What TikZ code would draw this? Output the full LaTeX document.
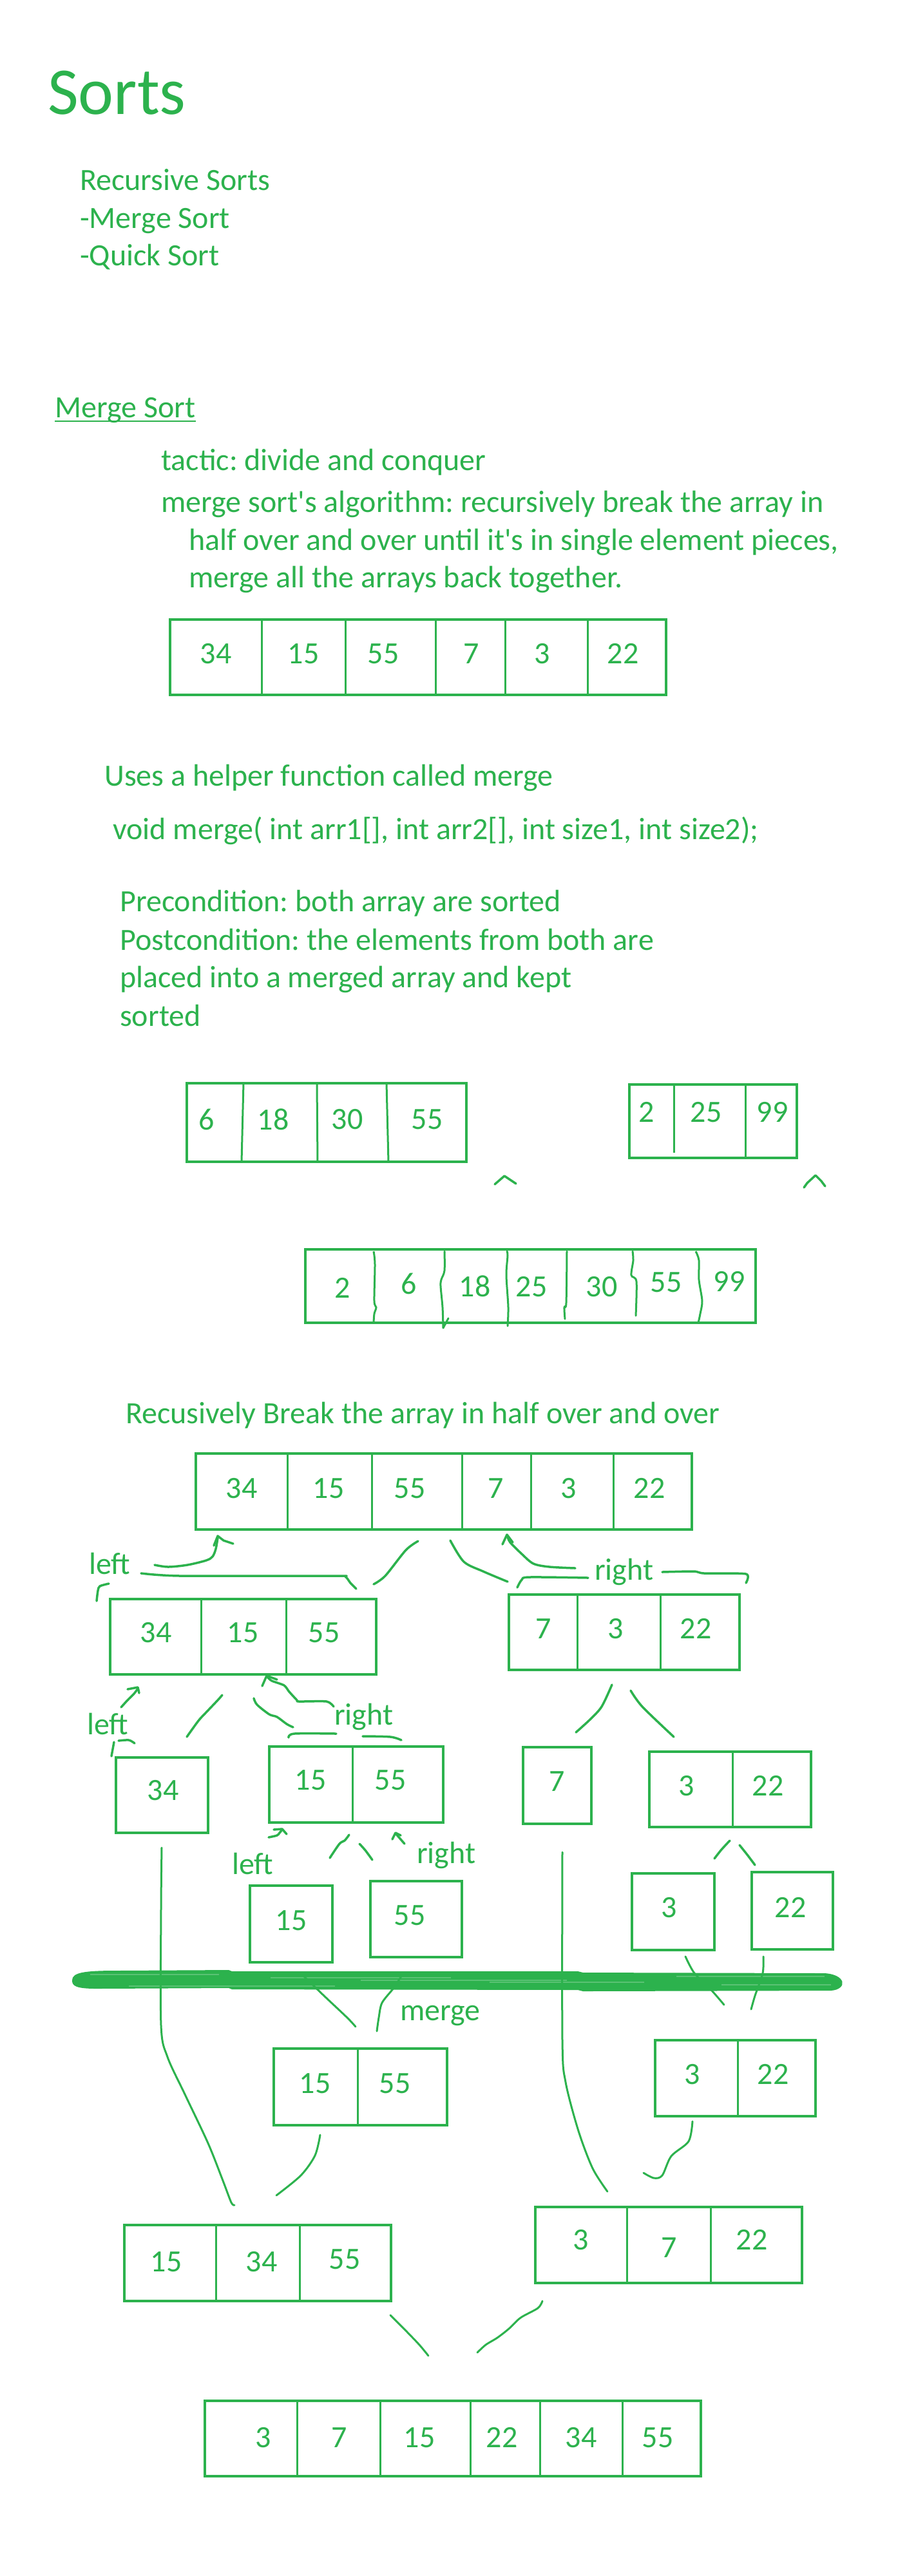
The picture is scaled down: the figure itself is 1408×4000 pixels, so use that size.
\documentclass[tikz,border=0pt]{standalone}
\usepackage{fontspec}
\setmainfont{Carlito}
\definecolor{ink}{RGB}{44,178,77}
\newcommand\bodyfs{\fontsize{48}{58}\selectfont}
\newcommand\titlefs{\fontsize{104}{120}\selectfont}
\newcommand\arrnode[5]{\node[abox,minimum width={#4-#2},minimum height={#5-#3}] (#1) at ({(#2+#4)/2},{(#3+#5)/2}) {};}
\newcommand\divs[3]{\foreach \dx in {#3} \draw[divl] (\dx,#1) -- (\dx,#2);}
\newcommand\nums[3]{\foreach \nx/\nv [count=\ni] in {#3} \node[num] (#1-\ni) at (\nx,#2) {\nv};}
\frenchspacing
\begin{document}
\begin{tikzpicture}[x=1pt,y=-1pt,
  abox/.style={draw=ink,line width=4.5pt,inner sep=0pt,outer sep=0pt},
  divl/.style={draw=ink,line width=3pt},
  num/.style={text=ink,font=\bodyfs,inner sep=0pt},
  txt/.style={text=ink,font=\bodyfs,inner sep=0pt,anchor=base west},
  hand/.style={draw=ink,line width=3.5pt,line cap=round,line join=round},
  thin/.style={draw=ink,line width=3pt,line cap=round,line join=round}]
\fill[white] (0,0) rectangle (1408,4000);
\useasboundingbox (0,0) rectangle (1408,4000);

% ---------- header text ----------
\node[txt,font=\titlefs] (title) at (74,177) {Sorts};
\node[txt] (rs) at (124,295) {Recursive Sorts};
\node[txt] (ms1) at (124,354) {-Merge Sort};
\node[txt] (qs1) at (124,412) {-Quick Sort};
\node[txt] (msh) at (85,648) {Merge Sort};
\draw[ink,line width=2.5pt] ([yshift=-6pt]msh.base west) -- ([yshift=-6pt]msh.base east);
\node[txt] (t1) at (250,730) {tactic: divide and conquer};
\node[txt] (t2) at (250,795) {merge sort\textquotesingle s algorithm: recursively break the array in};
\node[txt] (t3) at (293,854) {half over and over until it\textquotesingle s in single element pieces,};
\node[txt] (t4) at (293,912) {merge all the arrays back together.};

% first array
\arrnode{A0}{264}{962}{1034}{1079}
\divs{962}{1079}{406,536,676,784,912}
\nums{A0}{1015}{335/34,471/15,595/55,732/7,842/3,967/22}

\node[txt] (u1) at (162,1220) {Uses a helper function called merge};
\node[txt] (u2) at (175,1303) {void merge( int arr1[], int arr2[], int size1, int size2);};
\node[txt] (p1) at (186,1415) {Precondition: both array are sorted};
\node[txt] (p2) at (186,1475) {Postcondition: the elements from both are};
\node[txt] (p3) at (186,1533) {placed into a merged array and kept};
\node[txt] (p4) at (186,1593) {sorted};

% merge example
\arrnode{A1}{290}{1682}{724}{1804}
\draw[divl] (378,1682) -- (375,1804);
\draw[divl] (492,1682) -- (493,1804);
\draw[divl] (600,1682) -- (603,1804);
\nums{A1}{1738}{321/6,424/18,539/30,663/55}

\arrnode{A2}{977}{1684}{1237}{1798}
\draw[divl] (1046,1684) -- (1046,1790);
\draw[divl] (1157,1684) -- (1157,1798);
\nums{A2}{1727}{1004/2,1096/25,1199/99}

\draw[hand] (768,1839) -- (783,1826) -- (801,1838);
\draw[hand] (1248,1844) -- (1253,1837) -- (1266,1825) -- (1275,1834) -- (1281,1842);

\arrnode{A3}{474}{1940}{1173}{2054}
\draw[divl] plot[smooth] coordinates {(580,1943) (582,1963) (581,2020) (584,2030) (581,2040) (580,2054)};
\draw[divl,line cap=round] plot[smooth] coordinates {(690,1943) (690,1973) (685,1987) (684,1997) (687,2030) (688,2062)};
\draw[divl,line cap=round] (688,2062) -- (696,2047);
\draw[divl,line cap=round] plot[smooth] coordinates {(787,1943) (788,1950) (786,1980) (789,2030) (788,2059)};
\draw[divl,line cap=round] plot[smooth] coordinates {(880,1943) (879,2023) (876,2030) (877,2048)};
\draw[divl,line cap=round] plot[smooth] coordinates {(982,1943) (983,1957) (980,1980) (988,1990) (987,2043)};
\draw[divl] plot[smooth] coordinates {(1080,1943) (1085,1957) (1085,1987) (1090,2020) (1087,2040) (1084,2054)};
\node[num] (A3-1) at (532,2000) {2};
\node[num] (A3-2) at (635,1993) {6};
\node[num] (A3-3) at (737,1997) {18};
\node[num] (A3-4) at (825,1998) {25};
\node[num] (A3-5) at (934,1998) {30};
\node[num] (A3-6) at (1034,1991) {55};
\node[num] (A3-7) at (1132,1990) {99};

% ---------- recursion tree ----------
\node[txt] (rb) at (195,2210) {Recusively Break the array in half over and over};

\arrnode{B0}{304}{2257}{1074}{2375}
\divs{2257}{2375}{446,577,717,824,952}
\nums{B0}{2311}{375/34,510/15,636/55,770/7,883/3,1008/22}

\arrnode{B1}{171}{2483}{584}{2600}
\divs{2483}{2600}{312,444}
\nums{B1}{2535}{242/34,377/15,503/55}

\arrnode{B2}{790}{2476}{1148}{2593}
\divs{2476}{2593}{896,1025}
\nums{B2}{2529}{844/7,956/3,1080/22}

\arrnode{B3}{180}{2729}{323}{2846}
\nums{B3}{2780}{253/34}
\arrnode{B4}{418}{2712}{688}{2830}
\divs{2712}{2830}{547}
\nums{B4}{2764}{482/15,606/55}
\arrnode{B5}{812}{2713}{918}{2832}
\nums{B5}{2766}{865/7}
\arrnode{B6}{1008}{2720}{1259}{2837}
\divs{2720}{2837}{1137}
\nums{B6}{2773}{1066/3,1192/22}

\arrnode{B7}{388}{2928}{516}{3047}
\nums{B7}{2982}{452/15}
\arrnode{B8}{575}{2921}{717}{3039}
\nums{B8}{2974}{636/55}
\arrnode{B9}{981}{2909}{1109}{3028}
\nums{B9}{2962}{1039/3}
\arrnode{B10}{1167}{2907}{1293}{3027}
\nums{B10}{2962}{1227/22}

% brush band
\fill[ink] (112,3075) .. controls (112,3063) and (130,3060) .. (180,3060) -- (355,3059) -- (360,3061) -- (897,3061) -- (905,3063) -- (1280,3064) .. controls (1314,3066) and (1316,3089) .. (1290,3091) -- (905,3092) -- (897,3090) -- (360,3089) -- (355,3087) -- (150,3088) .. controls (116,3088) and (112,3083) .. (112,3075) -- cycle;
\foreach \sy/\sa/\sb in {3066/140/340,3071/420/700,3078/760/1000,3084/200/520,3069/1050/1280,3082/1120/1290,3075/560/880}
  \draw[white,opacity=0.22,line width=1.5pt] (\sa,\sy) -- (\sb,\sy);

\arrnode{B11}{425}{3181}{694}{3300}
\divs{3181}{3300}{555}
\nums{B11}{3235}{489/15,613/55}
\arrnode{B12}{1017}{3168}{1266}{3286}
\divs{3168}{3286}{1145}
\nums{B12}{3221}{1075/3,1200/22}

\arrnode{B13}{193}{3455}{607}{3573}
\divs{3455}{3573}{335,465}
\node[num] (B13-1) at (258,3512) {15};
\node[num] (B13-2) at (406,3512) {34};
\node[num] (B13-3) at (535,3508) {55};
\arrnode{B14}{831}{3427}{1245}{3545}
\divs{3427}{3545}{973,1103}
\node[num] (B14-1) at (902,3478) {3};
\node[num] (B14-2) at (1039,3490) {7};
\node[num] (B14-3) at (1167,3478) {22};

\arrnode{B15}{318}{3728}{1088}{3845}
\divs{3728}{3845}{461,590,730,838,966}
\nums{B15}{3785}{409/3,527/7,651/15,779/22,902/34,1021/55}

% ---------- labels ----------
\node[txt] (l1) at (138,2444) {left};
\node[txt] (r1) at (923,2453) {right};
\node[txt] (l2) at (135,2693) {left};
\node[txt] (r2) at (519,2678) {right};
\node[txt] (l3) at (360,2910) {left};
\node[txt] (r3) at (647,2893) {right};
\node[txt] (mg) at (621,3137) {merge};

% ---------- freehand strokes ----------
% level 0 -> 1
\draw[hand] plot[smooth] coordinates {(240,2430) (261,2433) (291,2430) (320,2423) (330,2417) (335,2405) (338,2388)};
\draw[hand] (332,2400) -- (338,2385) -- (347,2392) -- (362,2397);
\draw[hand] plot[smooth,tension=0.4] coordinates {(219,2443) (280,2447) (521,2447) (536,2448) (544,2458) (553,2467)};
\draw[hand] plot[smooth] coordinates {(169,2459) (155,2463) (152,2470) (150,2486)};
\draw[hand] plot[smooth] coordinates {(649,2393) (630,2407) (598,2447) (580,2460)};
\draw[hand] plot[smooth] coordinates {(699,2392) (720,2425) (750,2440) (788,2456)};
\draw[hand] plot[smooth] coordinates {(788,2386) (792,2395) (810,2413) (828,2428) (853,2433) (893,2435)};
\draw[hand] (780,2398) -- (787,2383) -- (796,2395);
\draw[hand] plot[smooth] coordinates {(803,2465) (810,2453) (822,2449) (913,2450)};
\draw[hand] plot[smooth,tension=0.4] coordinates {(1028,2441) (1077,2440) (1093,2443) (1158,2444) (1158,2458)};

% level 1 -> 2
\draw[hand] plot[smooth] coordinates {(188,2651) (198,2640) (208,2630) (214,2622)};
\draw[hand] (198,2623) -- (214,2620) -- (216,2629);
\draw[hand] plot[smooth] coordinates {(184,2703) (200,2702) (209,2707)};
\draw[hand] (177,2705) -- (173,2727);
\draw[hand] plot[smooth] coordinates {(345,2632) (338,2640) (319,2660) (308,2672) (290,2697)};
\draw[hand] plot[smooth] coordinates {(394,2637) (399,2647) (418,2662) (430,2666) (445,2677) (455,2682)};
\draw[hand] plot[smooth,tension=0.4] coordinates {(415,2604) (422,2610) (441,2617) (449,2627) (461,2640) (464,2642) (507,2642) (518,2650)};
\draw[hand] (407,2618) -- (414,2602) -- (430,2608);
\draw[hand] plot[smooth] coordinates {(448,2698) (457,2692) (522,2692)};
\draw[hand] plot[smooth] coordinates {(563,2696) (606,2697) (623,2702)};
\draw[hand] plot[smooth] coordinates {(950,2616) (934,2650) (916,2670) (894,2690)};
\draw[hand] plot[smooth] coordinates {(979,2625) (997,2650) (1046,2697)};

% level 2 -> 3
\draw[hand] plot[smooth] coordinates {(417,2853) (430,2850) (434,2846) (438,2841)};
\draw[hand] (425,2841) -- (438,2840) -- (445,2848);
\draw[hand] plot[smooth] coordinates {(542,2849) (535,2858) (527,2863) (512,2885)};
\draw[hand] plot[smooth] coordinates {(558,2863) (567,2873) (578,2888)};
\draw[hand] (628,2863) -- (615,2848);
\draw[hand] (609,2856) -- (614,2846) -- (622,2850);
\draw[hand] plot[smooth] coordinates {(1133,2858) (1120,2872) (1109,2886)};
\draw[hand] plot[smooth] coordinates {(1148,2865) (1160,2880) (1172,2896)};

% long carry-down lines
\draw[thin] plot[smooth] coordinates {(251,2869) (250,2965) (250,3145) (260,3194) (287,3252) (323,3328) (346,3386) (359,3420) (364,3424)};
\draw[thin] plot[smooth] coordinates {(873,2876) (873,3168) (878,3233) (898,3309) (920,3367) (943,3403)};

% merge strokes
\draw[thin] plot[smooth] coordinates {(469,3066) (503,3099) (539,3133) (552,3147)};
\draw[thin] plot[smooth] coordinates {(626,3064) (611,3087) (593,3110) (588,3133) (585,3154)};
\draw[thin] plot[smooth] coordinates {(1064,3038) (1078,3064) (1105,3091) (1124,3113)};
\draw[thin] plot[smooth] coordinates {(1185,3038) (1184,3064) (1172,3099) (1166,3120)};
\draw[thin] plot[smooth] coordinates {(497,3315) (489,3347) (467,3378) (429,3409)};
\draw[thin] plot[smooth] coordinates {(1075,3294) (1069,3325) (1042,3348) (1028,3378) (1015,3382) (999,3374)};
\draw[thin] plot[smooth] coordinates {(606,3595) (629,3618) (651,3641) (665,3658)};
\draw[thin] plot[smooth] coordinates {(842,3573) (835,3584) (808,3599) (790,3616) (772,3630) (754,3641) (741,3653)};
\end{tikzpicture}
\end{document}
